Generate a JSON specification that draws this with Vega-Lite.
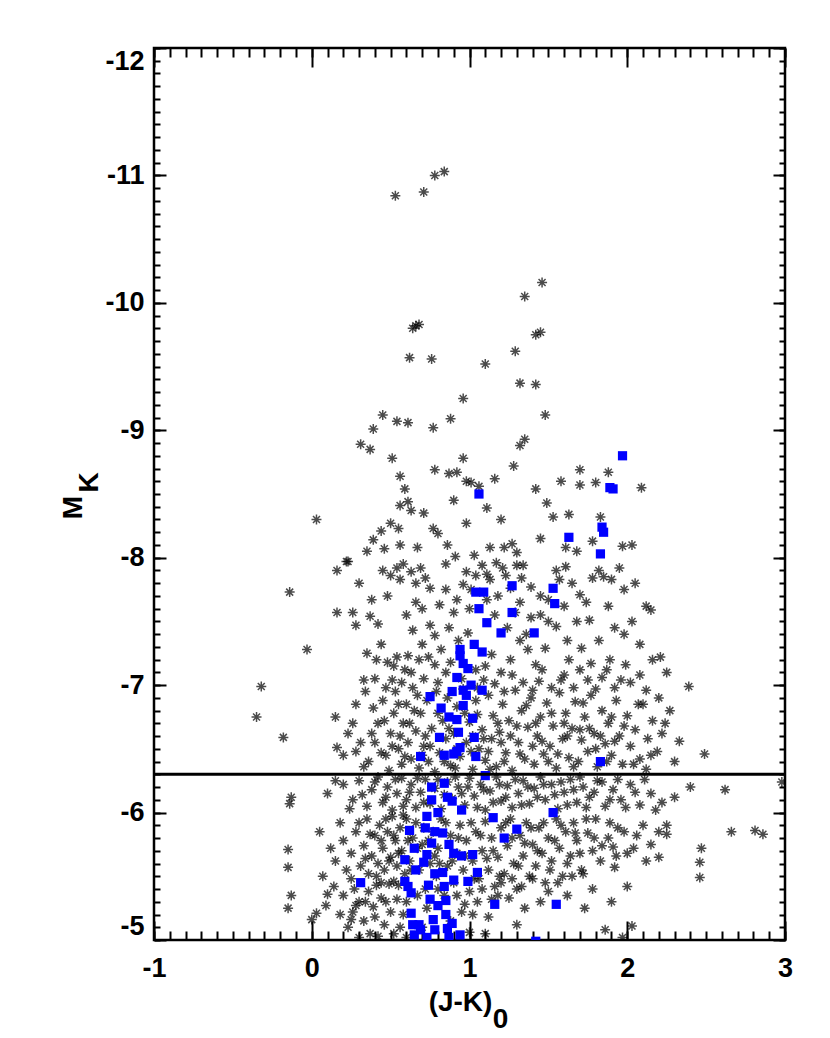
{
  "$schema": "https://vega.github.io/schema/vega-lite/v6.json",
  "width": 631,
  "height": 892,
  "autosize": {"type": "none"},
  "padding": {"left": 154, "top": 48, "right": 45, "bottom": 98},
  "background": "white",
  "config": {
    "view": {"stroke": "black", "strokeWidth": 2.5},
    "axis": {
      "grid": false,
      "domain": false,
      "tickColor": "black",
      "tickWidth": 2,
      "labelColor": "black",
      "titleColor": "black",
      "labelFont": "Liberation Sans",
      "titleFont": "Liberation Sans",
      "labelFontWeight": "bold",
      "titleFontWeight": "bold",
      "labelFontSize": 27,
      "titleFontSize": 28
    }
  },
  "resolve": {"axis": {"x": "independent", "y": "independent"}},
  "datasets": {
    "black": [
      {"x":0.78,"y":-11.00},{"x":0.84,"y":-11.03},{"x":0.71,"y":-10.87},{"x":0.53,"y":-10.84},
      {"x":1.46,"y":-10.16},{"x":1.35,"y":-10.05},{"x":1.45,"y":-9.77},{"x":1.42,"y":-9.75},
      {"x":0.64,"y":-9.80},{"x":0.66,"y":-9.82},{"x":0.68,"y":-9.83},{"x":0.62,"y":-9.57},
      {"x":0.76,"y":-9.56},{"x":1.10,"y":-9.52},{"x":1.29,"y":-9.62},{"x":1.32,"y":-9.37},
      {"x":1.42,"y":-9.36},{"x":1.48,"y":-9.12},{"x":0.45,"y":-9.12},{"x":0.54,"y":-9.07},
      {"x":0.61,"y":-9.06},{"x":0.77,"y":-9.02},{"x":0.88,"y":-9.09},{"x":0.96,"y":-9.25},
      {"x":0.31,"y":-8.89},{"x":0.39,"y":-9.01},{"x":0.37,"y":-8.85},{"x":0.51,"y":-8.78},
      {"x":1.35,"y":-8.93},{"x":1.32,"y":-8.88},{"x":1.28,"y":-8.72},{"x":0.96,"y":-8.78},
      {"x":1.70,"y":-8.69},{"x":1.88,"y":-8.67},{"x":1.80,"y":-8.59},{"x":2.09,"y":-8.55},
      {"x":1.42,"y":-8.54},{"x":1.63,"y":-8.34},{"x":1.53,"y":-8.32},{"x":1.83,"y":-8.32},
      {"x":1.70,"y":-8.57},{"x":0.56,"y":-8.64},{"x":0.59,"y":-8.54},{"x":0.61,"y":-8.44},
      {"x":0.56,"y":-8.41},{"x":0.63,"y":-8.37},{"x":0.50,"y":-8.27},{"x":0.55,"y":-8.23},
      {"x":0.44,"y":-8.21},{"x":0.39,"y":-8.14},{"x":0.46,"y":-8.07},{"x":0.56,"y":-8.10},
      {"x":0.67,"y":-8.08},{"x":0.78,"y":-8.69},{"x":0.87,"y":-8.66},{"x":0.92,"y":-8.67},
      {"x":0.98,"y":-8.60},{"x":1.01,"y":-8.59},{"x":1.06,"y":-8.56},{"x":1.11,"y":-8.39},
      {"x":1.16,"y":-8.62},{"x":0.77,"y":-8.23},{"x":0.80,"y":-8.19},{"x":0.86,"y":-8.10},
      {"x":0.98,"y":-8.27},{"x":1.03,"y":-8.02},{"x":1.13,"y":-8.08},{"x":1.22,"y":-8.08},
      {"x":1.27,"y":-8.11},{"x":1.30,"y":-8.04},{"x":1.61,"y":-8.08},{"x":1.68,"y":-8.05},
      {"x":1.97,"y":-8.09},{"x":2.03,"y":-8.10},{"x":1.78,"y":-8.13},{"x":1.49,"y":-8.43},
      {"x":0.03,"y":-8.30},{"x":0.71,"y":-8.35},{"x":0.90,"y":-8.45},{"x":1.20,"y":-8.30},
      {"x":0.35,"y":-8.05},{"x":1.45,"y":-8.15},{"x":1.58,"y":-8.60},
      {"x":-0.14,"y":-7.73},{"x":0.16,"y":-7.90},{"x":0.22,"y":-7.97},{"x":0.23,"y":-7.97},
      {"x":-0.03,"y":-7.28},{"x":0.16,"y":-7.57},{"x":0.26,"y":-7.57},{"x":0.28,"y":-7.47},
      {"x":0.37,"y":-7.54},{"x":0.42,"y":-7.48},{"x":0.44,"y":-7.32},{"x":0.41,"y":-7.20},
      {"x":0.45,"y":-7.90},{"x":0.50,"y":-7.86},{"x":0.54,"y":-7.92},{"x":0.56,"y":-7.83},
      {"x":0.58,"y":-7.95},{"x":0.63,"y":-7.89},{"x":0.66,"y":-7.80},{"x":0.69,"y":-7.92},
      {"x":0.72,"y":-7.84},{"x":0.75,"y":-7.76},{"x":0.66,"y":-7.65},{"x":0.64,"y":-7.43},
      {"x":0.75,"y":-7.47},{"x":0.78,"y":-7.39},{"x":0.70,"y":-7.32},{"x":0.68,"y":-7.20},
      {"x":0.61,"y":-7.23},{"x":0.54,"y":-7.22},{"x":0.48,"y":-7.18},{"x":0.33,"y":-7.04},
      {"x":0.51,"y":-7.04},{"x":0.59,"y":-7.12},{"x":0.78,"y":-7.16},{"x":0.82,"y":-7.28},
      {"x":0.87,"y":-7.45},{"x":0.90,"y":-7.57},{"x":0.92,"y":-7.67},{"x":0.96,"y":-7.79},
      {"x":0.98,"y":-7.89},{"x":1.01,"y":-7.75},{"x":1.04,"y":-7.86},{"x":1.08,"y":-7.94},
      {"x":1.11,"y":-7.87},{"x":1.13,"y":-7.83},{"x":1.17,"y":-7.96},{"x":1.21,"y":-7.92},
      {"x":1.23,"y":-7.86},{"x":1.26,"y":-7.76},{"x":1.30,"y":-7.94},{"x":1.34,"y":-7.94},
      {"x":1.33,"y":-7.84},{"x":1.39,"y":-7.77},{"x":1.45,"y":-7.70},{"x":1.50,"y":-7.67},
      {"x":1.55,"y":-7.90},{"x":1.57,"y":-7.83},{"x":1.61,"y":-7.93},{"x":1.65,"y":-7.80},
      {"x":1.70,"y":-7.71},{"x":1.74,"y":-7.65},{"x":1.78,"y":-7.84},{"x":1.82,"y":-7.90},
      {"x":1.85,"y":-7.85},{"x":1.90,"y":-7.83},{"x":1.98,"y":-7.75},{"x":1.76,"y":-7.51},
      {"x":1.82,"y":-7.35},{"x":1.92,"y":-7.45},{"x":1.98,"y":-7.40},{"x":2.03,"y":-7.50},
      {"x":2.08,"y":-7.32},{"x":2.15,"y":-7.59},{"x":2.16,"y":-7.20},{"x":2.08,"y":-7.08},
      {"x":1.99,"y":-7.16},{"x":1.89,"y":-7.20},{"x":1.84,"y":-7.06},{"x":1.77,"y":-7.17},
      {"x":1.71,"y":-7.29},{"x":1.62,"y":-7.35},{"x":1.55,"y":-7.46},{"x":1.48,"y":-7.29},
      {"x":1.42,"y":-7.16},{"x":1.37,"y":-7.28},{"x":1.32,"y":-7.35},{"x":1.26,"y":-7.20},
      {"x":1.20,"y":-7.10},{"x":1.14,"y":-7.24},{"x":1.09,"y":-7.04},{"x":1.04,"y":-7.12},
      {"x":0.99,"y":-7.41},{"x":0.93,"y":-7.35},{"x":0.85,"y":-7.10},{"x":1.29,"y":-7.57},
      {"x":1.39,"y":-7.53},{"x":1.32,"y":-7.65},{"x":1.50,"y":-7.50},{"x":1.63,"y":-7.20},
      {"x":1.70,"y":-7.12},{"x":1.58,"y":-7.04},{"x":1.44,"y":-7.03},{"x":1.96,"y":-7.04},
      {"x":1.16,"y":-7.55},{"x":1.11,"y":-7.67},{"x":0.81,"y":-7.63},{"x":0.85,"y":-7.75},
      {"x":0.38,"y":-7.67},{"x":0.91,"y":-8.01},{"x":2.21,"y":-7.22},{"x":2.25,"y":-7.10},
      {"x":2.12,"y":-7.62},
      {"x":0.30,"y":-7.80},{"x":0.48,"y":-7.70},{"x":0.60,"y":-7.55},{"x":0.70,"y":-7.60},
      {"x":0.85,"y":-7.95},{"x":1.00,"y":-7.60},{"x":1.18,"y":-7.70},{"x":1.24,"y":-7.45},
      {"x":1.36,"y":-7.40},{"x":1.45,"y":-7.55},{"x":1.60,"y":-7.62},{"x":1.68,"y":-7.50},
      {"x":1.88,"y":-7.62},{"x":1.95,"y":-7.92},{"x":2.05,"y":-7.80},
      {"x":-0.35,"y":-6.75},{"x":-0.32,"y":-6.99},{"x":-0.18,"y":-6.59},
      {"x":0.15,"y":-6.75},{"x":0.16,"y":-6.51},{"x":0.28,"y":-6.85},{"x":0.28,"y":-6.48},
      {"x":0.23,"y":-6.62},{"x":0.34,"y":-6.95},{"x":0.36,"y":-6.40},{"x":0.40,"y":-6.55},
      {"x":0.42,"y":-6.70},{"x":0.45,"y":-6.88},{"x":0.47,"y":-6.45},{"x":0.49,"y":-6.33},
      {"x":0.50,"y":-6.62},{"x":0.52,"y":-6.78},{"x":0.53,"y":-6.95},{"x":0.55,"y":-6.50},
      {"x":0.57,"y":-6.38},{"x":0.58,"y":-6.70},{"x":0.60,"y":-6.85},{"x":0.61,"y":-6.55},
      {"x":0.63,"y":-6.42},{"x":0.64,"y":-6.98},{"x":0.66,"y":-6.64},{"x":0.68,"y":-6.35},
      {"x":0.69,"y":-6.78},{"x":0.71,"y":-6.52},{"x":0.73,"y":-6.88},{"x":0.74,"y":-6.40},
      {"x":0.76,"y":-6.66},{"x":0.78,"y":-6.32},{"x":0.79,"y":-6.95},{"x":0.81,"y":-6.47},
      {"x":0.83,"y":-6.72},{"x":0.85,"y":-6.58},{"x":0.86,"y":-6.90},{"x":0.88,"y":-6.37},
      {"x":0.90,"y":-6.62},{"x":0.92,"y":-6.83},{"x":0.94,"y":-6.44},{"x":0.96,"y":-6.97},
      {"x":0.98,"y":-6.55},{"x":1.00,"y":-6.71},{"x":1.02,"y":-6.34},{"x":1.04,"y":-6.88},
      {"x":1.06,"y":-6.50},{"x":1.08,"y":-6.65},{"x":1.10,"y":-6.41},{"x":1.12,"y":-6.92},
      {"x":1.14,"y":-6.58},{"x":1.15,"y":-6.76},{"x":1.17,"y":-6.36},{"x":1.19,"y":-6.63},
      {"x":1.21,"y":-6.85},{"x":1.23,"y":-6.47},{"x":1.25,"y":-6.72},{"x":1.27,"y":-6.33},
      {"x":1.29,"y":-6.96},{"x":1.31,"y":-6.55},{"x":1.33,"y":-6.80},{"x":1.35,"y":-6.42},
      {"x":1.37,"y":-6.67},{"x":1.39,"y":-6.90},{"x":1.41,"y":-6.38},{"x":1.43,"y":-6.60},
      {"x":1.45,"y":-6.75},{"x":1.47,"y":-6.46},{"x":1.49,"y":-6.86},{"x":1.51,"y":-6.52},
      {"x":1.53,"y":-6.68},{"x":1.55,"y":-6.35},{"x":1.57,"y":-6.94},{"x":1.59,"y":-6.58},
      {"x":1.61,"y":-6.78},{"x":1.63,"y":-6.43},{"x":1.65,"y":-6.66},{"x":1.67,"y":-6.87},
      {"x":1.69,"y":-6.40},{"x":1.71,"y":-6.57},{"x":1.73,"y":-6.75},{"x":1.75,"y":-6.48},
      {"x":1.77,"y":-6.92},{"x":1.79,"y":-6.62},{"x":1.81,"y":-6.36},{"x":1.84,"y":-6.80},
      {"x":1.86,"y":-6.54},{"x":1.88,"y":-6.70},{"x":1.90,"y":-6.45},{"x":1.93,"y":-6.88},
      {"x":1.95,"y":-6.60},{"x":1.97,"y":-6.38},{"x":2.00,"y":-6.76},{"x":2.02,"y":-6.52},
      {"x":2.05,"y":-6.65},{"x":2.08,"y":-6.42},{"x":2.10,"y":-6.85},{"x":2.13,"y":-6.58},
      {"x":2.16,"y":-6.72},{"x":2.19,"y":-6.48},{"x":2.22,"y":-6.62},{"x":2.27,"y":-6.80},
      {"x":2.33,"y":-6.56},{"x":2.39,"y":-6.99},{"x":2.49,"y":-6.46},{"x":2.20,"y":-6.90},
      {"x":2.12,"y":-6.34},{"x":0.44,"y":-6.47},{"x":0.38,"y":-6.62},{"x":0.31,"y":-6.55},
      {"x":0.55,"y":-6.85},{"x":0.62,"y":-6.70},{"x":0.72,"y":-6.60},{"x":0.84,"y":-6.40},
      {"x":0.92,"y":-6.50},{"x":1.02,"y":-6.60},{"x":1.12,"y":-6.48},{"x":1.20,"y":-6.55},
      {"x":1.30,"y":-6.68},{"x":1.40,"y":-6.52},{"x":1.50,"y":-6.40},{"x":1.60,"y":-6.70},
      {"x":1.70,"y":-6.65},{"x":1.80,"y":-6.50},{"x":1.90,"y":-6.75},
      {"x":0.35,"y":-7.25},{"x":0.40,"y":-7.05},{"x":0.47,"y":-6.98},{"x":0.52,"y":-7.15},
      {"x":0.57,"y":-7.02},{"x":0.63,"y":-7.10},{"x":0.67,"y":-6.92},{"x":0.71,"y":-7.05},
      {"x":0.74,"y":-7.22},{"x":0.80,"y":-7.02},{"x":0.88,"y":-7.18},{"x":0.95,"y":-7.05},
      {"x":1.05,"y":-6.98},{"x":1.10,"y":-7.15},{"x":1.16,"y":-7.01},{"x":1.22,"y":-6.95},
      {"x":1.27,"y":-7.08},{"x":1.34,"y":-7.02},{"x":1.40,"y":-6.96},{"x":1.46,"y":-7.12},
      {"x":1.52,"y":-6.98},{"x":1.60,"y":-7.08},{"x":1.66,"y":-6.98},{"x":1.75,"y":-7.04},
      {"x":1.80,"y":-6.97},{"x":1.87,"y":-7.12},{"x":1.92,"y":-6.98},{"x":2.02,"y":-7.02},
      {"x":2.12,"y":-6.96},{"x":0.39,"y":-6.82},{"x":0.46,"y":-6.72},{"x":0.51,"y":-6.52},
      {"x":0.56,"y":-6.60},{"x":0.59,"y":-6.44},{"x":0.65,"y":-6.80},{"x":0.70,"y":-6.45},
      {"x":0.75,"y":-6.52},{"x":0.80,"y":-6.78},{"x":0.87,"y":-6.66},{"x":0.91,"y":-6.35},
      {"x":0.97,"y":-6.78},{"x":1.01,"y":-6.48},{"x":1.05,"y":-6.77},{"x":1.09,"y":-6.58},
      {"x":1.13,"y":-6.34},{"x":1.18,"y":-6.70},{"x":1.22,"y":-6.40},{"x":1.26,"y":-6.60},
      {"x":1.32,"y":-6.46},{"x":1.36,"y":-6.84},{"x":1.42,"y":-6.70},{"x":1.46,"y":-6.56},
      {"x":1.52,"y":-6.78},{"x":1.56,"y":-6.46},{"x":1.62,"y":-6.60},{"x":1.66,"y":-6.36},
      {"x":1.72,"y":-6.86},{"x":1.76,"y":-6.66},{"x":1.83,"y":-6.60},{"x":1.87,"y":-6.40},
      {"x":1.92,"y":-6.56},{"x":1.98,"y":-6.68},{"x":2.04,"y":-6.38},{"x":2.07,"y":-6.85},
      {"x":2.15,"y":-6.45},{"x":2.24,"y":-6.70},{"x":2.30,"y":-6.40},{"x":0.26,"y":-6.70},
      {"x":0.33,"y":-6.36},{"x":0.20,"y":-6.45},
      {"x":0.20,"y":-6.22},{"x":0.26,"y":-6.10},{"x":0.30,"y":-6.25},{"x":0.35,"y":-6.05},
      {"x":0.38,"y":-6.18},{"x":0.42,"y":-6.28},{"x":0.45,"y":-6.08},{"x":0.48,"y":-6.20},
      {"x":0.51,"y":-6.02},{"x":0.54,"y":-6.15},{"x":0.57,"y":-6.27},{"x":0.60,"y":-6.10},
      {"x":0.63,"y":-6.22},{"x":0.66,"y":-6.04},{"x":0.69,"y":-6.16},{"x":0.72,"y":-6.26},
      {"x":0.75,"y":-6.07},{"x":0.78,"y":-6.19},{"x":0.82,"y":-6.03},{"x":0.86,"y":-6.24},
      {"x":0.89,"y":-6.11},{"x":0.93,"y":-6.20},{"x":0.97,"y":-6.06},{"x":1.00,"y":-6.27},
      {"x":1.03,"y":-6.13},{"x":1.07,"y":-6.22},{"x":1.10,"y":-6.02},{"x":1.13,"y":-6.17},
      {"x":1.17,"y":-6.28},{"x":1.20,"y":-6.09},{"x":1.24,"y":-6.21},{"x":1.27,"y":-6.04},
      {"x":1.31,"y":-6.15},{"x":1.34,"y":-6.25},{"x":1.38,"y":-6.07},{"x":1.41,"y":-6.19},
      {"x":1.45,"y":-6.28},{"x":1.48,"y":-6.10},{"x":1.52,"y":-6.22},{"x":1.56,"y":-6.03},
      {"x":1.60,"y":-6.16},{"x":1.64,"y":-6.26},{"x":1.68,"y":-6.08},{"x":1.72,"y":-6.20},
      {"x":1.76,"y":-6.12},{"x":1.81,"y":-6.25},{"x":1.86,"y":-6.05},{"x":1.91,"y":-6.18},
      {"x":1.96,"y":-6.10},{"x":2.02,"y":-6.22},{"x":2.08,"y":-6.06},{"x":2.15,"y":-6.15},
      {"x":2.22,"y":-6.08},{"x":2.40,"y":-6.20},{"x":2.62,"y":-6.18},{"x":2.98,"y":-6.24},
      {"x":-0.13,"y":-6.12},{"x":-0.14,"y":-6.07},{"x":0.10,"y":-6.15},
      {"x":0.32,"y":-6.14},{"x":0.40,"y":-6.24},{"x":0.47,"y":-6.12},{"x":0.53,"y":-6.26},
      {"x":0.58,"y":-6.05},{"x":0.62,"y":-6.16},{"x":0.67,"y":-6.27},{"x":0.71,"y":-6.08},
      {"x":0.80,"y":-6.26},{"x":0.84,"y":-6.14},{"x":0.91,"y":-6.28},{"x":0.95,"y":-6.15},
      {"x":0.99,"y":-6.20},{"x":1.05,"y":-6.04},{"x":1.09,"y":-6.18},{"x":1.15,"y":-6.08},
      {"x":1.19,"y":-6.22},{"x":1.23,"y":-6.12},{"x":1.29,"y":-6.26},{"x":1.33,"y":-6.06},
      {"x":1.37,"y":-6.20},{"x":1.43,"y":-6.12},{"x":1.47,"y":-6.22},{"x":1.54,"y":-6.14},
      {"x":1.58,"y":-6.24},{"x":1.62,"y":-6.06},{"x":1.66,"y":-6.18},{"x":1.70,"y":-6.28},
      {"x":1.74,"y":-6.04},{"x":1.79,"y":-6.16},{"x":1.84,"y":-6.24},{"x":1.89,"y":-6.10},
      {"x":1.94,"y":-6.26},{"x":1.99,"y":-6.04},{"x":2.05,"y":-6.16},{"x":2.11,"y":-6.26},
      {"x":2.18,"y":-6.02},{"x":2.30,"y":-6.12},{"x":0.24,"y":-6.03},{"x":0.15,"y":-6.25},
      {"x":-0.15,"y":-5.71},{"x":-0.15,"y":-5.57},{"x":-0.13,"y":-5.35},{"x":-0.15,"y":-5.25},
      {"x":0.00,"y":-5.16},{"x":0.03,"y":-5.21},{"x":0.09,"y":-5.27},{"x":0.10,"y":-5.36},
      {"x":0.18,"y":-5.20},{"x":0.23,"y":-5.10},{"x":0.25,"y":-5.16},{"x":0.26,"y":-5.22},
      {"x":0.28,"y":-5.27},{"x":0.30,"y":-5.30},{"x":0.34,"y":-5.30},{"x":0.39,"y":-5.26},
      {"x":0.47,"y":-5.30},{"x":0.27,"y":-5.40},{"x":0.41,"y":-5.43},{"x":0.44,"y":-5.45},
      {"x":0.49,"y":-5.44},{"x":0.52,"y":-5.46},{"x":0.55,"y":-5.43},{"x":0.15,"y":-5.62},
      {"x":0.20,"y":-5.78},{"x":0.22,"y":-5.55},{"x":0.18,"y":-5.92},{"x":0.25,"y":-5.68},
      {"x":0.28,"y":-5.85},{"x":0.31,"y":-5.58},{"x":0.33,"y":-5.74},{"x":0.35,"y":-5.95},
      {"x":0.36,"y":-5.52},{"x":0.38,"y":-5.66},{"x":0.40,"y":-5.82},{"x":0.42,"y":-5.60},
      {"x":0.43,"y":-5.90},{"x":0.45,"y":-5.72},{"x":0.46,"y":-5.55},{"x":0.48,"y":-5.85},
      {"x":0.50,"y":-5.65},{"x":0.51,"y":-5.97},{"x":0.53,"y":-5.78},{"x":0.54,"y":-5.58},
      {"x":0.56,"y":-5.88},{"x":0.57,"y":-5.70},{"x":0.59,"y":-5.52},{"x":0.60,"y":-5.95},
      {"x":0.62,"y":-5.62},{"x":0.64,"y":-5.80},{"x":0.66,"y":-5.92},{"x":0.68,"y":-5.55},
      {"x":0.70,"y":-5.75},{"x":0.72,"y":-5.40},{"x":0.75,"y":-5.60},{"x":0.77,"y":-5.85},
      {"x":0.79,"y":-5.50},{"x":0.80,"y":-5.72},{"x":0.82,"y":-5.95},{"x":0.84,"y":-5.35},
      {"x":0.86,"y":-5.58},{"x":0.88,"y":-5.82},{"x":0.90,"y":-5.45},{"x":0.92,"y":-5.68},
      {"x":0.94,"y":-5.90},{"x":0.96,"y":-5.55},{"x":0.98,"y":-5.78},{"x":1.00,"y":-5.38},
      {"x":1.02,"y":-5.62},{"x":1.04,"y":-5.85},{"x":1.06,"y":-5.48},{"x":1.08,"y":-5.70},
      {"x":1.10,"y":-5.93},{"x":1.12,"y":-5.55},{"x":1.14,"y":-5.80},{"x":1.16,"y":-5.42},
      {"x":1.18,"y":-5.65},{"x":1.20,"y":-5.88},{"x":1.22,"y":-5.52},{"x":1.24,"y":-5.74},
      {"x":1.26,"y":-5.95},{"x":1.28,"y":-5.60},{"x":1.30,"y":-5.40},{"x":1.32,"y":-5.82},
      {"x":1.34,"y":-5.66},{"x":1.36,"y":-5.92},{"x":1.38,"y":-5.50},{"x":1.40,"y":-5.75},
      {"x":1.42,"y":-5.58},{"x":1.44,"y":-5.88},{"x":1.46,"y":-5.68},{"x":1.48,"y":-5.45},
      {"x":1.50,"y":-5.80},{"x":1.52,"y":-5.62},{"x":1.55,"y":-5.95},{"x":1.57,"y":-5.72},
      {"x":1.59,"y":-5.50},{"x":1.61,"y":-5.85},{"x":1.64,"y":-5.66},{"x":1.66,"y":-5.92},
      {"x":1.68,"y":-5.78},{"x":1.71,"y":-5.55},{"x":1.73,"y":-5.25},{"x":1.75,"y":-5.84},
      {"x":1.78,"y":-5.70},{"x":1.80,"y":-5.95},{"x":1.83,"y":-5.62},{"x":1.86,"y":-5.08},
      {"x":1.88,"y":-5.80},{"x":1.91,"y":-5.73},{"x":1.94,"y":-5.88},{"x":1.97,"y":-5.02},
      {"x":2.00,"y":-5.68},{"x":2.03,"y":-5.11},{"x":2.06,"y":-5.82},{"x":2.10,"y":-5.90},
      {"x":2.15,"y":-5.75},{"x":2.20,"y":-5.65},{"x":2.25,"y":-5.83},{"x":2.47,"y":-5.72},
      {"x":2.46,"y":-5.61},{"x":2.46,"y":-5.49},{"x":2.66,"y":-5.85},{"x":2.81,"y":-5.86},
      {"x":2.86,"y":-5.83},{"x":0.88,"y":-5.15},{"x":0.95,"y":-5.22},{"x":1.05,"y":-5.30},
      {"x":1.12,"y":-5.18},{"x":1.25,"y":-5.33},{"x":1.35,"y":-5.25},{"x":0.70,"y":-5.10},
      {"x":0.52,"y":-5.05},{"x":0.46,"y":-5.12},{"x":0.58,"y":-5.20},{"x":1.00,"y":-5.06},
      {"x":1.18,"y":-5.35},{"x":1.45,"y":-5.30},{"x":1.62,"y":-5.35},{"x":2.25,"y":-5.90},
      {"x":0.37,"y":-5.05},{"x":0.33,"y":-5.15},{"x":1.92,"y":-5.57},{"x":2.00,"y":-5.42},
      {"x":1.72,"y":-5.52},
      {"x":0.30,"y":-5.92},{"x":0.34,"y":-5.64},{"x":0.37,"y":-5.83},{"x":0.41,"y":-5.50},
      {"x":0.44,"y":-5.78},{"x":0.47,"y":-5.95},{"x":0.49,"y":-5.62},{"x":0.52,"y":-5.82},
      {"x":0.55,"y":-5.68},{"x":0.58,"y":-5.98},{"x":0.61,"y":-5.78},{"x":0.63,"y":-5.55},
      {"x":0.67,"y":-5.72},{"x":0.71,"y":-5.88},{"x":0.74,"y":-5.78},{"x":0.78,"y":-5.66},
      {"x":0.81,"y":-5.60},{"x":0.85,"y":-5.92},{"x":0.89,"y":-5.62},{"x":0.93,"y":-5.80},
      {"x":0.97,"y":-5.66},{"x":1.01,"y":-5.92},{"x":1.03,"y":-5.48},{"x":1.07,"y":-5.82},
      {"x":1.11,"y":-5.64},{"x":1.15,"y":-5.70},{"x":1.19,"y":-5.50},{"x":1.23,"y":-5.92},
      {"x":1.27,"y":-5.80},{"x":1.31,"y":-5.58},{"x":1.35,"y":-5.76},{"x":1.39,"y":-5.88},
      {"x":1.43,"y":-5.70},{"x":1.47,"y":-5.92},{"x":1.51,"y":-5.55},{"x":1.54,"y":-5.78},
      {"x":1.58,"y":-5.90},{"x":1.62,"y":-5.60},{"x":1.67,"y":-5.84},{"x":1.70,"y":-5.68},
      {"x":1.74,"y":-5.95},{"x":1.79,"y":-5.80},{"x":1.84,"y":-5.74},{"x":1.89,"y":-5.92},
      {"x":1.93,"y":-5.66},{"x":1.98,"y":-5.85},{"x":2.04,"y":-5.72},{"x":2.12,"y":-5.62},
      {"x":2.20,"y":-5.85},{"x":0.36,"y":-5.38},{"x":0.40,"y":-5.18},{"x":0.44,"y":-5.33},
      {"x":0.50,"y":-5.22},{"x":0.54,"y":-5.32},{"x":0.56,"y":-5.10},{"x":0.60,"y":-5.30},
      {"x":0.67,"y":-5.35},{"x":0.73,"y":-5.25},{"x":0.80,"y":-5.40},{"x":0.92,"y":-5.35},
      {"x":0.97,"y":-5.28},{"x":1.02,"y":-5.20},{"x":1.08,"y":-5.40},{"x":1.14,"y":-5.32},
      {"x":1.20,"y":-5.45},{"x":1.27,"y":-5.48},{"x":1.33,"y":-5.42},{"x":1.40,"y":-5.48},
      {"x":1.50,"y":-5.38},{"x":1.56,"y":-5.45},{"x":1.65,"y":-5.50},{"x":1.78,"y":-5.40},
      {"x":1.90,"y":-5.30},{"x":0.25,"y":-5.48},{"x":0.20,"y":-5.35},{"x":0.14,"y":-5.42},
      {"x":0.07,"y":-5.50},{"x":0.12,"y":-5.72},{"x":0.05,"y":-5.85},{"x":0.30,"y":-5.02},
      {"x":0.42,"y":-5.03},{"x":0.60,"y":-5.02},{"x":1.10,"y":-5.05},{"x":1.30,"y":-5.12}
    ],
    "blue": [
      {"x":1.97,"y":-8.80},{"x":1.89,"y":-8.55},{"x":1.91,"y":-8.54},{"x":1.84,"y":-8.24},
      {"x":1.85,"y":-8.20},{"x":1.83,"y":-8.03},{"x":1.63,"y":-8.16},{"x":1.06,"y":-8.50},
      {"x":1.53,"y":-7.76},{"x":1.54,"y":-7.64},{"x":1.27,"y":-7.78},{"x":1.09,"y":-7.73},
      {"x":1.04,"y":-7.73},{"x":1.06,"y":-7.60},{"x":1.11,"y":-7.49},{"x":1.20,"y":-7.41},
      {"x":1.27,"y":-7.57},{"x":1.41,"y":-7.41},{"x":1.03,"y":-7.32},{"x":1.08,"y":-7.26},
      {"x":0.94,"y":-7.28},{"x":0.94,"y":-7.23},{"x":0.96,"y":-7.17},{"x":0.99,"y":-7.13},
      {"x":0.92,"y":-7.06},{"x":1.01,"y":-7.00},{"x":0.96,"y":-6.96},{"x":0.98,"y":-6.92},
      {"x":0.89,"y":-6.95},{"x":1.08,"y":-6.96},{"x":0.75,"y":-6.91},{"x":0.82,"y":-6.82},
      {"x":0.92,"y":-6.73},{"x":1.02,"y":-6.74},{"x":1.03,"y":-6.59},{"x":0.93,"y":-6.63},
      {"x":0.81,"y":-6.59},{"x":0.94,"y":-6.51},{"x":0.92,"y":-6.48},{"x":0.90,"y":-6.46},
      {"x":0.84,"y":-6.45},{"x":0.69,"y":-6.44},{"x":1.04,"y":-6.44},{"x":1.83,"y":-6.40},
      {"x":1.10,"y":-6.29},{"x":0.76,"y":-6.20},{"x":0.76,"y":-6.10},{"x":0.84,"y":-6.23},
      {"x":0.86,"y":-6.12},{"x":0.89,"y":-6.09},{"x":0.95,"y":-6.02},{"x":0.80,"y":-6.00},
      {"x":0.73,"y":-5.97},{"x":0.62,"y":-5.86},{"x":0.72,"y":-5.88},{"x":0.78,"y":-5.85},
      {"x":0.83,"y":-5.84},{"x":0.87,"y":-5.75},{"x":0.90,"y":-5.68},{"x":0.95,"y":-5.66},
      {"x":1.02,"y":-5.67},{"x":1.22,"y":-5.80},{"x":1.30,"y":-5.87},{"x":1.53,"y":-6.00},
      {"x":1.15,"y":-5.96},{"x":0.76,"y":-5.76},{"x":0.73,"y":-5.67},{"x":0.71,"y":-5.61},
      {"x":0.59,"y":-5.46},{"x":0.61,"y":-5.42},{"x":0.63,"y":-5.37},{"x":0.74,"y":-5.43},
      {"x":0.78,"y":-5.52},{"x":0.83,"y":-5.53},{"x":0.84,"y":-5.42},{"x":0.85,"y":-5.31},
      {"x":0.75,"y":-5.32},{"x":0.80,"y":-5.27},{"x":0.31,"y":-5.45},{"x":0.90,"y":-5.47},
      {"x":0.99,"y":-5.46},{"x":1.05,"y":-5.53},{"x":1.16,"y":-5.28},{"x":1.55,"y":-5.28},
      {"x":0.63,"y":-5.21},{"x":0.64,"y":-5.12},{"x":0.65,"y":-5.04},{"x":0.68,"y":-5.12},
      {"x":0.69,"y":-5.08},{"x":0.77,"y":-5.16},{"x":0.78,"y":-5.08},{"x":0.85,"y":-5.20},
      {"x":0.86,"y":-5.09},{"x":0.87,"y":-5.02},{"x":0.89,"y":-5.13},{"x":0.94,"y":-5.04},
      {"x":0.73,"y":-5.02},{"x":1.42,"y":-4.99},{"x":0.65,"y":-5.72},{"x":0.66,"y":-5.55},
      {"x":0.59,"y":-5.63},{"x":0.96,"y":-6.84},{"x":0.87,"y":-6.75}
    ]
  },
  "layer": [
    {
      "data": {"name": "blue"},
      "mark": {"type": "point", "opacity": 0},
      "encoding": {
        "x": {"field": "x", "type": "quantitative",
              "scale": {"domain": [-1, 3], "nice": false, "zero": false},
              "axis": {"orient": "bottom", "ticks": false, "values": [-1, 0, 1, 2, 3],
                       "labelFlush": false, "labelPadding": 15,
                       "labelExpr": "datum.value < 0 ? '-' + abs(datum.value) : '' + datum.value",
                       "title": "(J-K)", "titleX": 306, "titleY": 70, "titleBaseline": "alphabetic", "titleAlign": "center", "titleAnchor": null}},
        "y": {"field": "y", "type": "quantitative",
              "scale": {"domain": [-12, -5], "reverse": true, "nice": false, "zero": false},
              "axis": {"orient": "left", "ticks": false, "values": [-12, -11, -10, -9, -8, -7, -6, -5],
                       "labelFlush": true, "labelPadding": 10,
                       "labelExpr": "datum.value < 0 ? '-' + abs(datum.value) : '' + datum.value",
                       "title": "M", "titleX": -73, "titleY": 459, "titleAngle": -90, "titleBaseline": "alphabetic", "titleAlign": "center", "titleAnchor": null}}
      }
    },
    {
      "data": {"name": "blue"},
      "mark": {"type": "point", "opacity": 0},
      "encoding": {
        "x": {"field": "x", "type": "quantitative",
              "scale": {"domain": [-1, 3], "nice": false, "zero": false},
              "axis": {"orient": "bottom", "labels": false, "values": [-1, 0, 1, 2, 3],
                       "tickSize": 19, "offset": -19,
                       "title": "0", "titleX": 346, "titleY": 106, "titleBaseline": "alphabetic", "titleAlign": "center", "titleAnchor": null}},
        "y": {"field": "y", "type": "quantitative",
              "scale": {"domain": [-12, -5], "reverse": true, "nice": false, "zero": false},
              "axis": {"orient": "left", "labels": false, "values": [-12, -11, -10, -9, -8, -7, -6, -5],
                       "tickSize": 12, "offset": -12,
                       "title": "K", "titleX": -69, "titleY": 434, "titleAngle": -90, "titleBaseline": "alphabetic", "titleAlign": "center", "titleAnchor": null}}
      }
    },
    {
      "data": {"name": "blue"},
      "mark": {"type": "point", "opacity": 0},
      "encoding": {
        "x": {"field": "x", "type": "quantitative",
              "scale": {"domain": [-1, 3], "nice": false, "zero": false},
              "axis": {"orient": "bottom", "labels": false, "title": null, "tickSize": 9, "offset": -9,
                       "values": [-1,-0.9,-0.8,-0.7,-0.6,-0.5,-0.4,-0.3,-0.2,-0.1,0,0.1,0.2,0.3,0.4,0.5,0.6,0.7,0.8,0.9,1,1.1,1.2,1.3,1.4,1.5,1.6,1.7,1.8,1.9,2,2.1,2.2,2.3,2.4,2.5,2.6,2.7,2.8,2.9,3]}},
        "y": {"field": "y", "type": "quantitative",
              "scale": {"domain": [-12, -5], "reverse": true, "nice": false, "zero": false},
              "axis": {"orient": "left", "labels": false, "title": null, "tickSize": 6, "offset": -6,
                       "values": [-12,-11.9,-11.8,-11.7,-11.6,-11.5,-11.4,-11.3,-11.2,-11.1,-11,-10.9,-10.8,-10.7,-10.6,-10.5,-10.4,-10.3,-10.2,-10.1,-10,-9.9,-9.8,-9.7,-9.6,-9.5,-9.4,-9.3,-9.2,-9.1,-9,-8.9,-8.8,-8.7,-8.6,-8.5,-8.4,-8.3,-8.2,-8.1,-8,-7.9,-7.8,-7.7,-7.6,-7.5,-7.4,-7.3,-7.2,-7.1,-7,-6.9,-6.8,-6.7,-6.6,-6.5,-6.4,-6.3,-6.2,-6.1,-6,-5.9,-5.8,-5.7,-5.6,-5.5,-5.4,-5.3,-5.2,-5.1,-5]}}
      }
    },
    {
      "data": {"name": "blue"},
      "mark": {"type": "point", "opacity": 0},
      "encoding": {
        "x": {"field": "x", "type": "quantitative",
              "scale": {"domain": [-1, 3], "nice": false, "zero": false},
              "axis": {"orient": "top", "labels": false, "title": null, "values": [-1, 0, 1, 2, 3],
                       "tickSize": 19, "offset": -19}},
        "y": {"field": "y", "type": "quantitative",
              "scale": {"domain": [-12, -5], "reverse": true, "nice": false, "zero": false},
              "axis": {"orient": "right", "labels": false, "title": null, "values": [-12, -11, -10, -9, -8, -7, -6, -5],
                       "tickSize": 12, "offset": -12}}
      }
    },
    {
      "data": {"name": "blue"},
      "mark": {"type": "point", "opacity": 0},
      "encoding": {
        "x": {"field": "x", "type": "quantitative",
              "scale": {"domain": [-1, 3], "nice": false, "zero": false},
              "axis": {"orient": "top", "labels": false, "title": null, "tickSize": 9, "offset": -9,
                       "values": [-1,-0.9,-0.8,-0.7,-0.6,-0.5,-0.4,-0.3,-0.2,-0.1,0,0.1,0.2,0.3,0.4,0.5,0.6,0.7,0.8,0.9,1,1.1,1.2,1.3,1.4,1.5,1.6,1.7,1.8,1.9,2,2.1,2.2,2.3,2.4,2.5,2.6,2.7,2.8,2.9,3]}},
        "y": {"field": "y", "type": "quantitative",
              "scale": {"domain": [-12, -5], "reverse": true, "nice": false, "zero": false},
              "axis": {"orient": "right", "labels": false, "title": null, "tickSize": 6, "offset": -6,
                       "values": [-12,-11.9,-11.8,-11.7,-11.6,-11.5,-11.4,-11.3,-11.2,-11.1,-11,-10.9,-10.8,-10.7,-10.6,-10.5,-10.4,-10.3,-10.2,-10.1,-10,-9.9,-9.8,-9.7,-9.6,-9.5,-9.4,-9.3,-9.2,-9.1,-9,-8.9,-8.8,-8.7,-8.6,-8.5,-8.4,-8.3,-8.2,-8.1,-8,-7.9,-7.8,-7.7,-7.6,-7.5,-7.4,-7.3,-7.2,-7.1,-7,-6.9,-6.8,-6.7,-6.6,-6.5,-6.4,-6.3,-6.2,-6.1,-6,-5.9,-5.8,-5.7,-5.6,-5.5,-5.4,-5.3,-5.2,-5.1,-5]}}
      }
    },
    {
      "data": {"name": "black"},
      "mark": {"type": "point", "clip": true, "filled": false, "stroke": "black", "strokeWidth": 1.5, "size": 100,
               "shape": "M-1,0L1,0M0,-1L0,1M-0.7,-0.7L0.7,0.7M-0.7,0.7L0.7,-0.7"},
      "encoding": {
        "x": {"field": "x", "type": "quantitative", "scale": {"domain": [-1, 3], "nice": false, "zero": false}, "axis": null},
        "y": {"field": "y", "type": "quantitative", "scale": {"domain": [-12, -5], "reverse": true, "nice": false, "zero": false}, "axis": null}
      }
    },
    {
      "data": {"name": "blue"},
      "mark": {"type": "point", "clip": true, "filled": true, "shape": "square", "size": 85, "color": "#0000ff", "opacity": 1},
      "encoding": {
        "x": {"field": "x", "type": "quantitative", "scale": {"domain": [-1, 3], "nice": false, "zero": false}, "axis": null},
        "y": {"field": "y", "type": "quantitative", "scale": {"domain": [-12, -5], "reverse": true, "nice": false, "zero": false}, "axis": null}
      }
    },
    {
      "data": {"values": [{"limit": -6.3}]},
      "mark": {"type": "rule", "color": "black", "strokeWidth": 3},
      "encoding": {
        "y": {"field": "limit", "type": "quantitative", "scale": {"domain": [-12, -5], "reverse": true, "nice": false, "zero": false}, "axis": null}
      }
    }
  ]
}
